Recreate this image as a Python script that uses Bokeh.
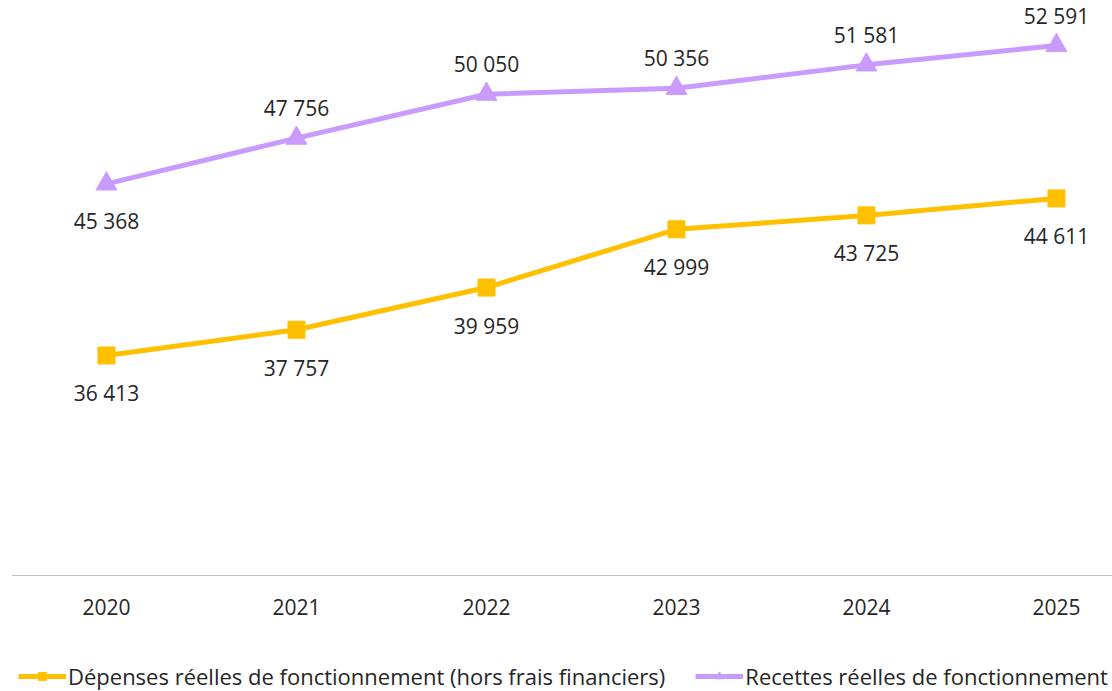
from bokeh.plotting import figure
from bokeh.models import ColumnDataSource, Legend, LegendItem, LabelSet, Range1d, Span
from bokeh.core.properties import value
from bokeh.embed import file_html
from bokeh.resources import INLINE

years = ["2020", "2021", "2022", "2023", "2024", "2025"]
depenses = [36413, 37757, 39959, 42999, 43725, 44611]
recettes = [45368, 47756, 50050, 50356, 51581, 52591]
name_dep = "Dépenses réelles de fonctionnement (hors frais financiers)"
name_rec = "Recettes réelles de fonctionnement"

ORANGE = "#FFC000"
PURPLE = "#C99BFF"
FONT = "Open Sans"
BASE = 24931

def fmt(v):
    return f"{v:,}".replace(",", " ")

xs = list(range(len(years)))
src_dep = ColumnDataSource(dict(x=xs, y=depenses, lab=[fmt(v) for v in depenses],
                                yo=[-38] * len(xs)))
src_rec = ColumnDataSource(dict(x=xs, y=recettes, lab=[fmt(v) for v in recettes],
                                yo=[-37 if i == 0 else 30 for i in xs]))
src_years = ColumnDataSource(dict(x=xs, y=[BASE] * len(xs), lab=years))

p = figure(width=1112, height=691, output_backend="svg", toolbar_location=None,
           x_range=Range1d(-0.5, 5.295), y_range=Range1d(18877, 54940),
           min_border_left=11, min_border_right=0, min_border_top=0, min_border_bottom=0)
p.outline_line_color = None
p.xgrid.visible = False
p.ygrid.visible = False
p.xaxis.visible = False
p.yaxis.visible = False

p.add_layout(Span(location=BASE, dimension="width", line_color="#BFBFBF", line_width=1.2))
p.add_layout(LabelSet(x="x", y="y", text="lab", source=src_years, y_offset=-32,
                      text_align="center", text_baseline="middle",
                      text_font=value(FONT), text_font_size=value("21px"),
                      text_color="#262626"))

l1 = p.line("x", "y", source=src_dep, line_color=ORANGE, line_width=5)
m1 = p.scatter("x", "y", source=src_dep, marker="square", size=17, fill_color=ORANGE, line_color=ORANGE)
l2 = p.line("x", "y", source=src_rec, line_color=PURPLE, line_width=5)
m2 = p.scatter("x", "y", source=src_rec, marker="triangle", size=21, fill_color=PURPLE, line_color=PURPLE)

for src in (src_dep, src_rec):
    p.add_layout(LabelSet(x="x", y="y", text="lab", source=src, y_offset="yo",
                          text_align="center", text_baseline="middle",
                          text_font=value(FONT), text_font_size=value("21px"),
                          text_color="#262626"))

legend = Legend(items=[LegendItem(label=name_dep, renderers=[l1, m1]),
                       LegendItem(label=name_rec, renderers=[l2, m2])],
                orientation="horizontal", location=(7, 0),
                label_text_font=FONT, label_text_font_size="22px", label_text_color="#262626",
                label_height=20,
                glyph_width=48, glyph_height=20, spacing=30, padding=0, margin=0,
                label_standoff=2, border_line_color=None, background_fill_alpha=0)
p.add_layout(legend, "center")

open("out.html", "w").write(file_html(p, INLINE))
